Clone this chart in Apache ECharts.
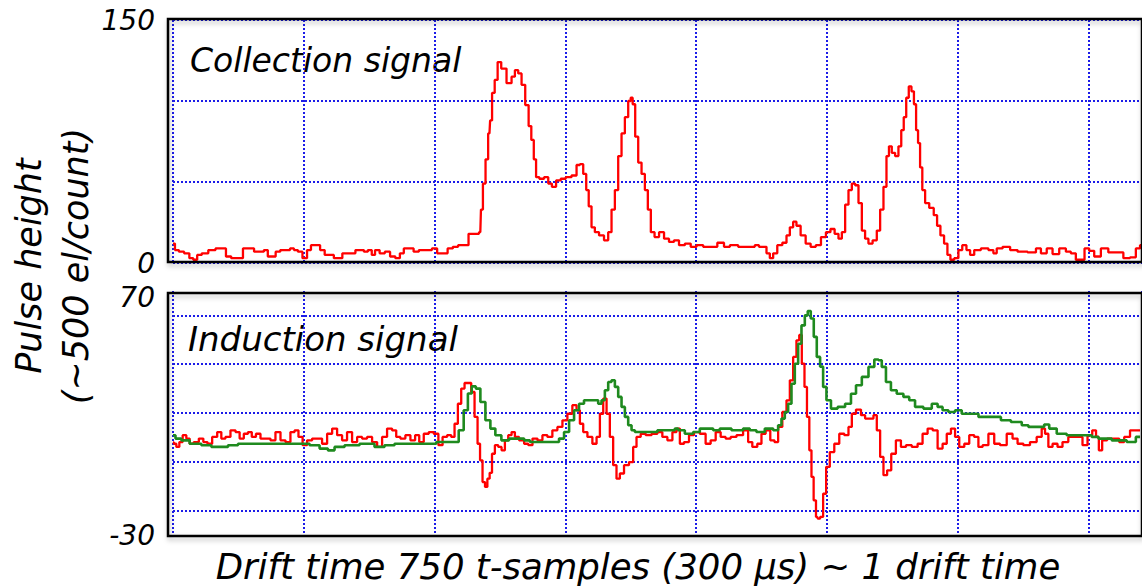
<!DOCTYPE html>
<html><head><meta charset="utf-8">
<script src="https://cdn.jsdelivr.net/npm/echarts@6/dist/echarts.min.js"></script>
<style>html,body{margin:0;padding:0;background:#fff}#c{width:1142px;height:588px}</style>
</head><body><div id="c"></div>
<script>
// x = t-sample index, y = pulse height (~500 el/count)
const collection = [[0,12],[3,8],[6,7],[11,6],[14,3],[17,2],[20,5],[24,6],[30,8],[35,9],[39,9],[42,4],[47,3],[52,3],[55,9],[60,9],[64,7],[68,7],[71,8],[74,4],[77,4],[80,7],[84,8],[88,8],[91,9],[94,8],[97,7],[101,3],[104,8],[107,11],[111,11],[114,8],[118,5],[121,5],[125,3],[128,3],[131,6],[137,6],[142,8],[145,8],[147,7],[151,8],[153,5],[156,8],[160,6],[164,7],[168,4],[172,3],[175,6],[178,9],[182,9],[186,7],[190,8],[196,8],[200,9],[204,6],[208,6],[212,9],[216,10],[220,11],[224,11],[228,18],[233,18],[235,19],[236,33],[238,49],[240,64],[242,80],[243,88],[245,105],[247,113],[249.5,124],[252.5,120],[257.6,111],[260.2,115],[262.7,119],[265.3,117],[267.8,110],[270.9,97.5],[273,84.5],[275,76],[276.8,64],[278.5,53],[281.8,52],[285.7,53],[288.2,49],[291.3,47],[294.6,51],[298.4,52],[302.2,53],[307.3,54],[309.9,60.5],[312.4,61],[315,55],[317,45],[318.8,35],[321.3,22],[323.9,19],[327.7,17],[331.5,14],[334.1,19],[336.6,33],[339.2,45],[341.7,66],[344.3,80],[346.8,90],[349.4,100],[350.6,102],[352.4,98],[354.5,78],[357,62],[359.6,55],[362.1,45],[364.1,33],[366.7,19],[369.8,16],[373.6,19],[377.4,15],[381.2,13],[385,14],[388.9,11],[394,12],[397.8,10],[402.9,11],[408,10],[413.1,10],[419.4,12.5],[423.3,10],[428.4,11],[436,10],[443.6,10],[446.2,11],[450,10],[452.6,10],[455.1,6],[457.7,3],[460.2,6],[464,11],[467.9,12.5],[470.4,17],[473,22],[475.5,25.5],[478,23],[481.9,17],[485.7,12],[489.5,10],[493.6,11],[497.4,16],[501.2,19],[504.3,21],[507.6,18],[510.2,15],[512.7,19],[515.3,36],[517.8,45],[520.4,49],[522.9,48],[525.5,37],[528,20],[530.5,15],[533.1,12],[536.9,14],[539.5,20],[542,33],[544.6,47],[546.6,66],[548.4,72],[550.9,68],[553.5,66],[556,72],[557.8,82],[559.8,90],[561.6,102],[563.7,109],[565.7,106],[567.5,98],[569,82],[570.5,74],[572.1,59],[573.9,45],[576.4,37],[580.2,34],[583.3,29.5],[585.3,23],[588.4,17],[590.9,12],[593.5,5],[595.5,2],[599.3,3],[601.9,8],[605.2,11],[608.3,8],[610.8,5],[614.6,8],[621,9],[626.1,8],[628.6,6],[631.2,9],[637.6,10],[642.7,8],[649,7],[658,6.5],[661.8,9],[665.6,6],[670.7,9],[674.5,5.5],[680.9,9],[684.7,7],[688.5,6],[692.3,2],[695.4,2],[698.7,9],[702.5,7.5],[706.4,4],[712.7,9],[717.8,6.5],[724.2,6.5],[729.3,3],[734.4,3.5],[738.2,9],[740.8,11]];

const inductionRed = [[0,8],[1.3,7.4],[3.8,6.1],[5.9,8.1],[8.9,10.9],[11.5,9.5],[14,7.4],[17.8,8.1],[21.7,9.5],[24.7,8.1],[28,7.4],[31.9,10.2],[35.7,12.2],[38.2,9.5],[42,10.2],[45.9,12.9],[49.7,12.2],[52.2,9.5],[56.1,11.5],[58.6,12.2],[61.9,10.2],[65,11.5],[68.8,9.5],[72.6,9.5],[76.4,8.8],[80.3,12.2],[84.1,8.8],[87.9,8.1],[91.7,12.2],[94.3,12.9],[97.6,10.2],[100.6,6.8],[104.5,8.8],[108.3,9.5],[112.1,9.5],[115.9,7.4],[119.8,11.5],[123.6,13.6],[127.4,10.9],[131.2,8.8],[135,12.2],[138.9,8.1],[142.7,10.2],[146.5,9.5],[150.3,10.2],[154.2,8.1],[158,6.1],[161.8,10.2],[165.6,13.6],[169.4,12.9],[172,10.2],[175.8,9.5],[179.6,10.9],[183.5,8.8],[186.8,10.9],[189.8,8.1],[193.7,11.5],[197.5,12.2],[201.3,11.5],[204.6,6.8],[207.7,10.2],[211.5,10.9],[214,10.2],[216.6,15.6],[219.1,23.8],[221.7,30],[224.2,32.3],[226.8,32.3],[229.3,28.6],[231.9,18.4],[233.9,7.4],[235.7,0.6],[237.7,-8.3],[239.5,-10.3],[241.3,-6.9],[243,-4.5],[244.9,3.3],[247.4,6.8],[250,6.1],[252.5,4.7],[255.1,8.8],[257.6,10.9],[260.2,12.2],[262.7,10.2],[266.6,8.8],[270.4,7.4],[273,6.8],[276.8,9.5],[280.6,8.8],[284.4,10.9],[288.2,10.2],[292,12.9],[295.9,14.3],[299.7,17],[303.5,19.7],[307.3,23.2],[309.9,21.1],[312.4,15.6],[315,12.2],[318.8,10.2],[322.6,7.4],[325.2,10.2],[327.7,19.7],[330.3,25.9],[332.8,19.7],[335.3,10.2],[337.9,-1.4],[340.4,-6.9],[343,-4.8],[346.8,-1.4],[350.6,-0.1],[353.2,6.1],[355.7,10.2],[359.6,11.5],[363.4,10.9],[368.5,11.5],[372.3,12.2],[376.1,10.2],[380,8.8],[383.8,12.2],[386.3,13.6],[388.9,7.4],[392.7,8.1],[396.5,10.9],[400.3,12.2],[405.4,11.5],[409.2,7.4],[413.1,8.8],[416.9,12.2],[420.7,10.2],[424.5,9.5],[428.4,10.2],[433.4,10.9],[438.5,12.9],[441.1,8.1],[444.9,6.1],[448.7,7.4],[451.3,11.5],[455.1,12.9],[458.4,8.8],[461.5,8.1],[464,14.3],[467.9,20.4],[470.4,25.2],[473,33.4],[475.5,43],[478,49.8],[479.8,52],[481.9,40.2],[483.9,30.7],[485.7,18.4],[487.5,4.7],[489,-6.2],[490.8,-15.8],[492.6,-22.6],[493.6,-23.3],[496.1,-22.6],[498.2,-13.1],[500.7,-2.1],[503.8,4],[507.6,7.4],[511.4,11.5],[515.3,10.9],[517.8,14.3],[520.4,19.7],[524.2,21.4],[528,19.1],[530.5,17.7],[534.4,17.7],[536.9,19.1],[539.5,12.9],[542,2],[544.6,-5.5],[547.6,-3.5],[550.9,3.3],[554.7,8.8],[558.6,6.1],[562.4,6.8],[567.5,6.1],[571.3,7.4],[575.1,11.5],[579,13.6],[582.8,12.9],[586.6,5.4],[590.4,7.4],[593,11.5],[596.8,13.6],[599.3,10.2],[603.2,6.1],[607,7.4],[610.8,10.9],[614.6,10.2],[617.2,6.1],[621,6.8],[626.1,11.5],[629.9,7.4],[635,6.8],[640.1,11.5],[643.9,9.5],[647.8,7.4],[652.8,6.8],[657.9,8.1],[663,10.2],[665.6,13.6],[668.1,11.5],[670.7,6.1],[674.5,7.4],[678.3,6.1],[682.1,8.1],[687.2,10.2],[693.6,10.2],[697.4,6.8],[701.3,10.9],[704.6,12.9],[707.1,10.2],[708.9,4.7],[712.2,8.8],[716.5,9.5],[721.6,9.5],[725.5,8.1],[729.3,10.2],[734.4,12.9],[739.5,12.9]];

const inductionGreen = [[0,10.9],[3.8,9.5],[8.9,8.8],[16.6,7.4],[26.8,6.8],[31.9,6.1],[39.5,6.1],[44.6,6.8],[54.8,7.4],[72.6,7.4],[93,7.4],[100.6,7.4],[108.3,6.8],[115.9,5.4],[121,4.7],[126.1,6.1],[136.3,6.8],[149,7.4],[159.2,6.1],[164.3,6.8],[174.5,7.4],[194.9,7.4],[207.7,8.1],[216.6,8.1],[220.4,12.9],[224.2,21.1],[226.8,28],[230.1,30.9],[233.1,30],[237,24.5],[240.8,17],[244.6,13.6],[248.4,10.9],[253.8,8.8],[260.2,9.5],[266.6,9.5],[270.4,8.8],[275.5,8.1],[293.3,8.1],[297.1,9.5],[301,12.2],[304.8,17],[308.6,21.1],[312.4,23.8],[316.2,25.2],[323.9,25.2],[326.4,23.8],[329,25.2],[331.5,29.3],[334.1,32.7],[336.6,33.4],[339.2,30.7],[341.7,26.6],[344.3,22.5],[346.8,18.4],[349.4,15],[351.9,12.9],[354.5,12.2],[369.8,12.2],[371,12.9],[382.5,12.9],[385,13.6],[387.6,12.9],[395.2,11.5],[400.3,12.2],[405.4,13.6],[410.5,13.6],[415.6,12.9],[420.7,13.6],[433.4,12.9],[438.5,13.6],[443.6,12.9],[448.7,12.2],[456.4,13.6],[461.5,12.9],[464,15],[466.6,17.7],[469.1,20.4],[471.7,23.8],[474.2,32],[476.8,40.2],[479.3,48.4],[481.9,55.9],[484.4,60],[486.4,61.8],[489,58.7],[491,51.2],[493.6,43],[496.1,39],[498.2,30.7],[501.2,25.2],[505.1,21.8],[511.4,22.5],[516.5,23.8],[520.4,27.9],[524.2,31.4],[529.3,34.8],[534.4,38.9],[538.2,41.9],[540.7,41.6],[543.3,38.9],[547.1,32.7],[550.9,29.3],[556,27.9],[561.1,26.6],[564.9,25.2],[570,22.5],[577.7,21.8],[582.8,23.8],[586.6,22.5],[590.4,21.1],[595.5,20.4],[600.6,21.1],[605.7,19.7],[613.4,19.7],[618.5,18.4],[631.2,18.4],[635,17],[646.5,16.3],[651.6,15],[656.7,14.3],[664.3,14.3],[668.1,15.3],[672,13.6],[679.6,11.5],[687.2,10.9],[700,10.9],[705.1,10.2],[710.2,9.5],[725.5,8.8],[733.1,8.1],[739.5,10.2]];

const topTickLabels = [0, 150];
const bottomTickLabels = [-30, 70];
const bottomGridValues = [-20, 0, 20, 40, 60];

const FONT = '"DejaVu Sans", Verdana, sans-serif';
const GRIDBLUE = '#1c1ce8';
const dotted = {show: true, lineStyle: {color: GRIDBLUE, type: [2, 2], width: 2}};
const labelRich = {
  up: {fontSize: 28, fontStyle: 'italic', fontFamily: FONT, color: '#000', padding: [0, 0, 0, 0]},
  dn: {fontSize: 28, fontStyle: 'italic', fontFamily: FONT, color: '#000', padding: [12, 0, 0, 0]}
};

const chart = echarts.init(document.getElementById('c'), null, {renderer: 'svg'});
chart.setOption({
  animation: false,
  backgroundColor: '#fff',
  grid: [
    {left: 173, top: 20, width: 969, height: 243},
    {left: 173, top: 291, width: 969, height: 244},
    {left: 168, top: 19, right: -20, height: 243, show: true, borderColor: '#000', borderWidth: 2.5, z: 3,
     shadowColor: 'rgba(0,0,0,0.25)', shadowBlur: 5, shadowOffsetX: 1, shadowOffsetY: 3},
    {left: 168, top: 293, right: -20, height: 243, show: true, borderColor: '#000', borderWidth: 2.5, z: 3,
     shadowColor: 'rgba(0,0,0,0.25)', shadowBlur: 5, shadowOffsetX: 1, shadowOffsetY: 3}
  ],
  xAxis: [
    {type: 'value', gridIndex: 0, min: 0, max: 741, interval: 100, axisLine: {show: false}, axisTick: {show: false}, axisLabel: {show: false}, splitLine: dotted},
    {type: 'value', gridIndex: 1, min: 0, max: 741, interval: 100, axisLine: {show: false}, axisTick: {show: false}, axisLabel: {show: false}, splitLine: dotted},
    {type: 'value', gridIndex: 2, show: false},
    {type: 'value', gridIndex: 3, show: false}
  ],
  yAxis: [
    {type: 'value', gridIndex: 0, min: 0, max: 150, interval: 50, axisLine: {show: false}, axisTick: {show: false}, splitLine: dotted,
     axisLabel: {margin: 18, color: '#000', fontSize: 28, fontStyle: 'italic', fontFamily: FONT, rich: labelRich,
       formatter: v => topTickLabels.includes(v) ? '{up|' + v + '}' : ''}},
    {type: 'value', gridIndex: 1, min: -30, max: 70, interval: 10, axisLine: {show: false}, axisTick: {show: false}, splitLine: {show: false},
     axisLabel: {margin: 18, color: '#000', fontSize: 28, fontStyle: 'italic', fontFamily: FONT, rich: labelRich,
       formatter: v => bottomTickLabels.includes(v) ? (v === 70 ? '{dn|' + v + '}' : '{up|' + v + '}') : ''}},
    {type: 'value', gridIndex: 2, show: false},
    {type: 'value', gridIndex: 3, show: false}
  ],
  series: [
    {type: 'line', name: 'Collection', xAxisIndex: 0, yAxisIndex: 0, data: collection, step: 'middle', showSymbol: false,
     lineStyle: {color: '#ff0000', width: 2.3}, z: 2},
    {type: 'line', name: 'Induction (raw)', xAxisIndex: 1, yAxisIndex: 1, data: inductionRed, step: 'middle', showSymbol: false,
     lineStyle: {color: '#ff0000', width: 2.3}, z: 2,
     markLine: {silent: true, symbol: 'none', z: 1, label: {show: false}, animation: false,
       lineStyle: {color: GRIDBLUE, type: [2, 2], width: 2},
       data: bottomGridValues.map(v => ({yAxis: v}))}},
    {type: 'line', name: 'Induction (integrated)', xAxisIndex: 1, yAxisIndex: 1, data: inductionGreen, step: 'middle', showSymbol: false,
     lineStyle: {color: '#1f8a1f', width: 2.6}, z: 2}
  ],
  graphic: [
    {type: 'text', x: 190, y: 60, style: {text: 'Collection signal', font: 'italic 33px ' + FONT, fill: '#000', align: 'left', verticalAlign: 'middle'}},
    {type: 'text', x: 188, y: 339, style: {text: 'Induction signal', font: 'italic 34px ' + FONT, fill: '#000', align: 'left', verticalAlign: 'middle'}},
    {type: 'text', x: 638, y: 566, style: {text: 'Drift time 750 t-samples (300 µs) ~ 1 drift time', font: 'italic 35.5px ' + FONT, fill: '#000', align: 'center', verticalAlign: 'middle'}},
    {type: 'text', x: 52, y: 266, rotation: Math.PI / 2, style: {text: 'Pulse height\n(~500 el/count)', font: 'italic 35px ' + FONT, lineHeight: 47, fill: '#000', align: 'center', verticalAlign: 'middle'}}
  ]
});
</script></body></html>
